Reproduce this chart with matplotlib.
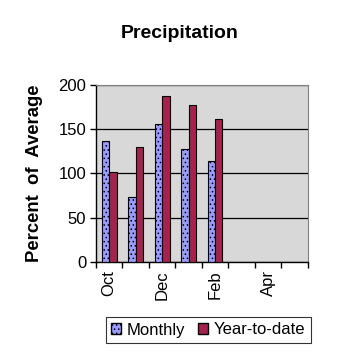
import matplotlib
matplotlib.use("Agg")
import matplotlib.pyplot as plt
import numpy as np
from matplotlib.patches import Patch

plt.rcParams['font.family'] = ['Liberation Sans', 'DejaVu Sans']
plt.rcParams['hatch.linewidth'] = 0.6

months = ["Oct", "Nov", "Dec", "Jan", "Feb", "Mar", "Apr", "May"]
month_labels = ["Oct", "", "Dec", "", "Feb", "", "Apr", ""]
monthly = [137, 73, 156, 128, 114]
ytd = [102, 130, 187, 177, 161]
yticks = [0, 50, 100, 150, 200]

fig = plt.figure(figsize=(3.58, 3.58), dpi=100)
ax = fig.add_axes([96/358, 1-261.7/358, (307.7-96)/358, (261.7-85)/358])
ax.set_facecolor('#d8d8d8')

x = np.arange(len(months))
w = 0.28
xm = np.arange(len(monthly))
ax.bar(xm - w/2, monthly, w, color='#9a9aff', edgecolor='black', linewidth=0.8,
       hatch='....', zorder=3)
ax.bar(xm + w/2, ytd, w, color='#a3234f', edgecolor='black', linewidth=0.8, zorder=3)

ax.set_xlim(-0.5, len(months) - 0.5)
ax.set_ylim(0, 200)
ax.set_yticks(yticks)
ax.set_yticklabels([str(v) for v in yticks], fontsize=12)
ax.yaxis.grid(True, color='black', linewidth=0.9, zorder=1)
ax.set_axisbelow(True)

ax.set_xticks(np.arange(len(months) + 1) - 0.5)
ax.set_xticklabels([])
ax.set_xticks(x, minor=True)
ax.set_xticklabels(month_labels, minor=True, rotation=90, fontsize=12)
ax.tick_params(axis='x', which='minor', length=0, pad=6)
ax.tick_params(axis='x', which='major', length=4, width=1, direction='out')
ax.tick_params(axis='y', length=4, width=1, direction='out', pad=3)

for s in ['top', 'right']:
    ax.spines[s].set_color('#808080')
    ax.spines[s].set_linewidth(0.8)
for s in ['left', 'bottom']:
    ax.spines[s].set_color('black')
    ax.spines[s].set_linewidth(1)

fig.text(180/358, 1-33/358, "Precipitation", ha='center', va='center',
         fontsize=14, fontweight='bold')
fig.text(35/358, 1-173/358, "Percent  of  Average", ha='center', va='center',
         rotation=90, fontsize=13.3, fontweight='bold')

handles = [Patch(facecolor='#9a9aff', edgecolor='black', hatch='....', label='Monthly'),
           Patch(facecolor='#a3234f', edgecolor='black', label='Year-to-date')]
leg = fig.legend(handles=handles, loc='center', bbox_to_anchor=(208/358, 1-330/358),
                 ncol=2, fontsize=12, frameon=True, fancybox=False, edgecolor='black',
                 handlelength=0.6, handleheight=0.6, handletextpad=0.3, columnspacing=0.8,
                 borderpad=0.35)
leg.get_frame().set_linewidth(0.8)

fig.savefig("out.png", dpi=100)
